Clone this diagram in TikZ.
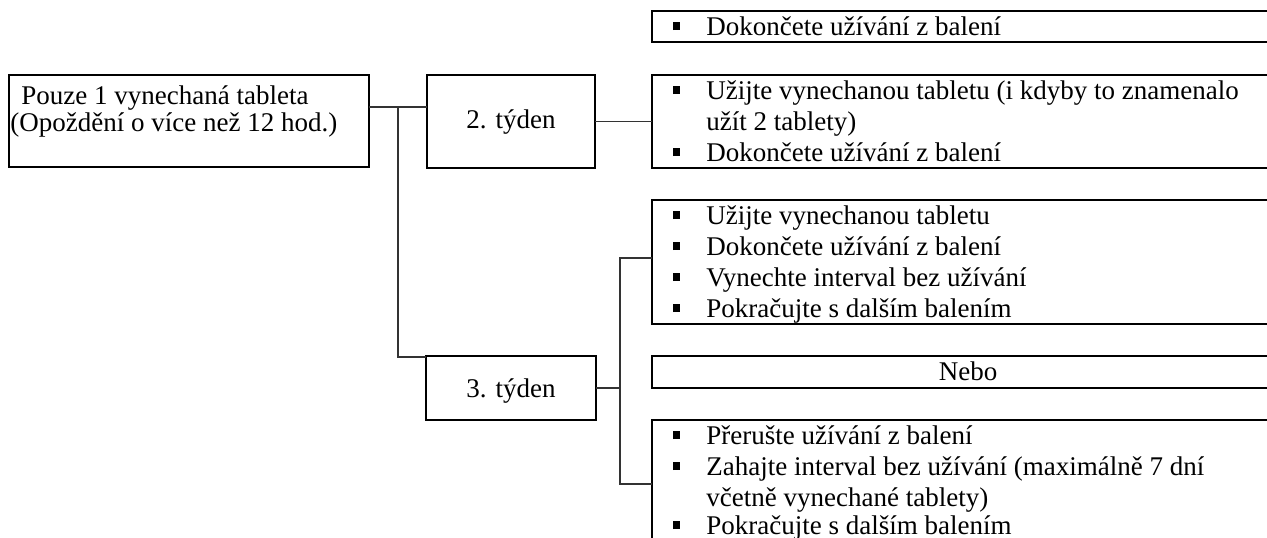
\documentclass[tikz,border=0pt]{standalone}
\usepackage{fontspec}
\setmainfont{Liberation Serif}
\newcommand{\bul}{\makebox[16.75pt][l]{\rule[2.5pt]{3.5pt}{4pt}}}
\begin{document}
\begin{tikzpicture}[x=0.5pt,y=-0.5pt,
  box/.style={draw=black, line width=1.3pt, inner sep=0pt, outer sep=0pt, anchor=north west, rectangle, minimum width=316pt},
  conn/.style={draw=black!80, line width=0.7pt},
  txt/.style={anchor=base west, inner sep=0pt, font=\fontsize{13.5pt}{15.5pt}\selectfont},
  ctxt/.style={anchor=base, inner sep=0pt, font=\fontsize{13.5pt}{15.5pt}\selectfont}]
\useasboundingbox (0,0) rectangle (1267,537);
\clip (0,0) rectangle (1267,537);
% left boxes
\node[box, minimum width=180pt, minimum height=46pt] (pouze) at (9,75) {};
\node[box, minimum width=84pt, minimum height=46.5pt] (t2) at (427,75) {};
\node[box, minimum width=85pt, minimum height=32pt] (t3) at (426,356) {};
% right boxes
\node[box, minimum height=15.5pt] (r1) at (652,11) {};
\node[box, minimum height=46.5pt] (r2) at (652,75) {};
\node[box, minimum height=62pt] (r3) at (652,200) {};
\node[box, minimum height=16pt] (nebo) at (652,356) {};
\node[box, minimum height=62pt] (r4) at (652,420) {};
% texts
\node[txt] (p1) at (21,104) {Pouze 1 vynechaná tableta};
\node[txt] (p2) at (10,131) {(Opoždění o více než 12 hod.)};
\node[ctxt] (t2l) at (511,128) {2. týden};
\node[ctxt] (t3l) at (511,397) {3. týden};
\node[ctxt] (nebol) at (968,380) {Nebo};
\node[txt] (a1) at (672.5,35) {\bul Dokončete užívání z balení};
\node[txt] (b1t) at (672.5,99) {\bul Užijte vynechanou tabletu (i kdyby to znamenalo};
\node[txt] (b2t) at (706,130) {užít 2 tablety)};
\node[txt] (b3t) at (672.5,161) {\bul Dokončete užívání z balení};
\node[txt] (c1) at (672.5,224) {\bul Užijte vynechanou tabletu};
\node[txt] (c2) at (672.5,255) {\bul Dokončete užívání z balení};
\node[txt] (c3) at (672.5,286) {\bul Vynechte interval bez užívání};
\node[txt] (c4) at (672.5,317) {\bul Pokračujte s dalším balením};
\node[txt] (d1) at (672.5,444) {\bul Přerušte užívání z balení};
\node[txt] (d2) at (672.5,475) {\bul Zahajte interval bez užívání (maximálně 7 dní};
\node[txt] (d3) at (706,506) {včetně vynechané tablety)};
\node[txt] (d4) at (672.5,534) {\bul Pokračujte s dalším balením};
% connectors
\coordinate (j1) at (398,107);
\coordinate (j2) at (398,357);
\draw[conn] (pouze.east |- j1) -- (t2.west |- j1);
\draw[conn] (j1) -- (j2) -- (t3.west |- j2);
\draw[conn] (t2.east) -- (r2.west |- t2.east);
\coordinate (k) at (620,388);
\coordinate (k1) at (620,258);
\coordinate (k2) at (620,484);
\draw[conn] (t3.east) -- (k);
\draw[conn] (r3.west |- k1) -- (k1) -- (k2) -- (r4.west |- k2);
\end{tikzpicture}
\end{document}
